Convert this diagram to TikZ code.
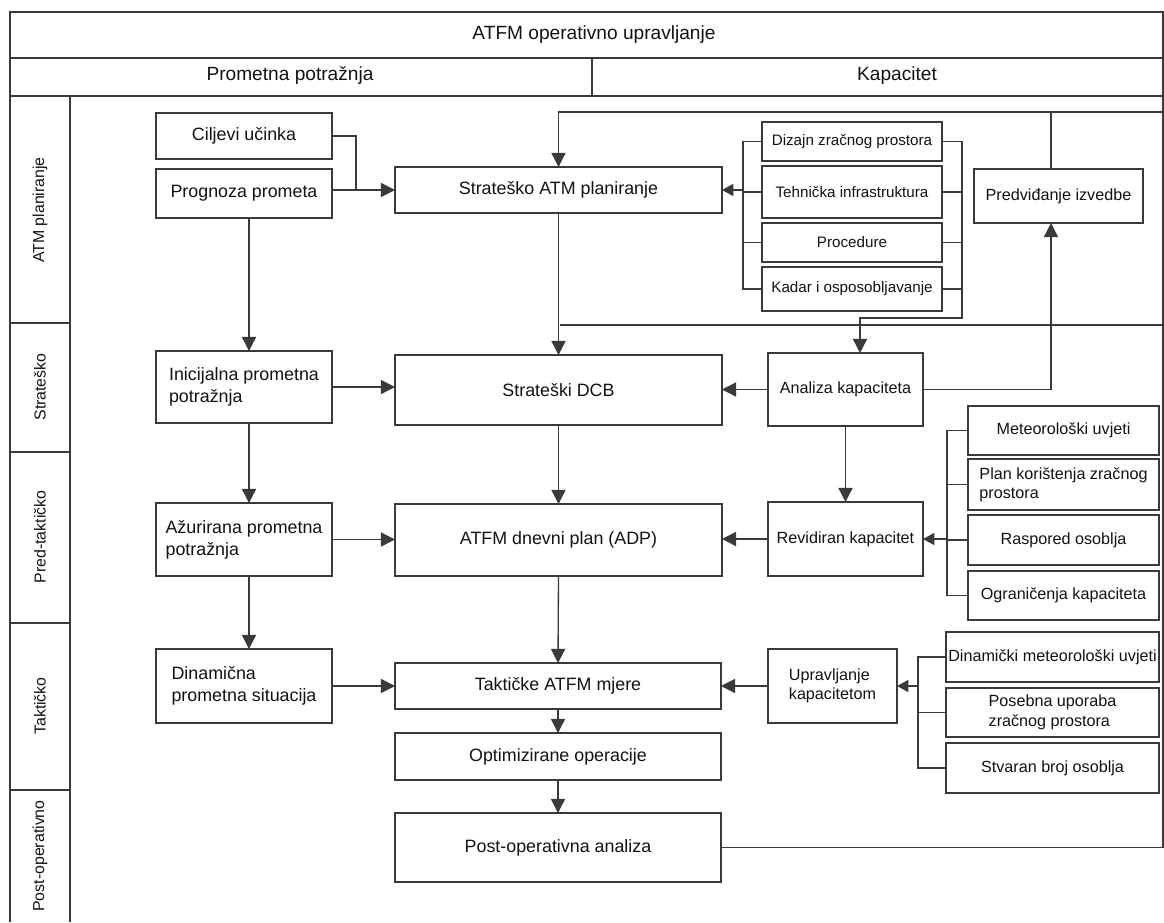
\documentclass[tikz,border=0pt]{standalone}
\usepackage{fontspec}
\setmainfont{Liberation Sans}
\usetikzlibrary{arrows.meta}
\definecolor{ln}{HTML}{3A3A3A}
\definecolor{tx}{HTML}{121212}
\newcommand\fmain{\fontsize{12.7}{15.5}\selectfont}
\newcommand\fside{\fontsize{11.5}{13.8}\selectfont}
\newcommand\fsmall{\fontsize{10.8}{13}\selectfont}
\newcommand\fhead{\fontsize{13.6}{16}\selectfont}
\newcommand\flane{\fontsize{11.3}{13}\selectfont}
% #1 style, #2 name, #3 x1, #4 y1, #5 x2, #6 y2, #7 text
\newcommand\bx[7][]{%
  \node[box,minimum width={(#5-#3)*0.025cm},minimum height={(#6-#4)*0.025cm},#1]
    (#2) at ({(#3+#5)/2},{(#4+#6)/2}) {#7};}
\begin{document}
\begin{tikzpicture}[x=0.025cm,y=-0.025cm,
  box/.style={draw=ln,line width=0.95pt,inner sep=0pt,outer sep=0pt,text=tx,font=\fmain,align=center},
  side/.style={font=\fside},
  smallbox/.style={font=\fsmall},
  conn/.style={draw=ln,line width=0.95pt},
  big/.style={conn,-{Triangle[length=10pt,width=10pt]}},
  sml/.style={conn,-{Triangle[length=8pt,width=8.5pt]}},
  frame/.style={draw=ln,line width=0.95pt},
  lbl/.style={text=tx,inner sep=0pt}]
\useasboundingbox (0,0) rectangle (1164,922);
% ---------- frame ----------
\draw[frame] (10,922) -- (10,12) -- (1163,12) -- (1163,848);
\draw[frame] (10,58) -- (1163,58);
\draw[frame] (10,96) -- (1163,96);
\draw[frame] (592,58) -- (592,96);
\draw[frame] (70,96) -- (70,922);
\foreach \yy in {323,452,623,790} \draw[frame] (10,\yy) -- (70,\yy);
\node[lbl,font=\fhead] (hdr) at (594,35) {ATFM operativno upravljanje};
\node[lbl,font=\fhead] (hpp) at (290,76) {Prometna potražnja};
\node[lbl,font=\fhead] (hkp) at (897,76) {Kapacitet};
\node[lbl,font=\flane,rotate=90] (l1) at (40,210) {ATM planiranje};
\node[lbl,font=\flane,rotate=90] (l2) at (40,387) {Strateško};
\node[lbl,font=\flane,rotate=90] (l3) at (40,537) {Pred-taktičko};
\node[lbl,font=\flane,rotate=90] (l4) at (40,706) {Taktičko};
\node[lbl,font=\flane,rotate=90] (l5) at (40,856) {Post-operativno};
% ---------- boxes ----------
\bx{cilj}{156}{113}{332}{159}{Ciljevi učinka}
\bx{prog}{156}{169}{332}{218}{Prognoza prometa}
\bx{sap}{395}{167}{722}{213}{Strateško ATM planiranje}
\bx[smallbox]{dzp}{762}{122}{942}{161}{Dizajn zračnog prostora}
\bx[smallbox]{tehn}{762}{166}{942}{218}{Tehnička infrastruktura}
\bx[smallbox]{proc}{762}{223}{942}{262}{Procedure}
\bx[smallbox]{kadar}{762}{267}{942}{311}{Kadar i osposobljavanje}
\bx[side]{pred}{974}{169}{1143}{223}{Predviđanje izvedbe}
\bx[align=left]{inic}{156}{351}{332}{423}{Inicijalna prometna\\potražnja}
\bx{dcb}{395}{355}{722}{425}{Strateški DCB}
\bx[side]{anal}{768}{353}{923}{426}{Analiza kapaciteta}
\bx[align=left]{azur}{156}{503}{332}{576}{Ažurirana prometna\\potražnja}
\bx{adp}{395}{504}{722}{576}{ATFM dnevni plan (ADP)}
\bx[side]{rev}{768}{502}{923}{576}{Revidiran kapacitet}
\bx[side]{met}{968}{406}{1159}{455}{Meteorološki uvjeti}
\bx[side,align=left]{plan}{968}{459}{1159}{510}{Plan korištenja zračnog\\prostora}
\bx[side]{rasp}{968}{515}{1159}{565}{Raspored osoblja}
\bx[side]{ogr}{968}{571}{1159}{620}{Ograničenja kapaciteta}
\bx[align=left]{dyn}{156}{649}{332}{723}{Dinamična\\prometna situacija}
\bx{takt}{395}{663}{721}{709}{Taktičke ATFM mjere}
\bx[side,align=left]{upr}{768}{649}{897}{723}{Upravljanje\\kapacitetom}
\bx[side]{dmet}{946}{632}{1159}{682}{Dinamički meteorološki uvjeti}
\bx[side,align=left]{pos}{946}{688}{1159}{737}{Posebna uporaba\\zračnog prostora}
\bx[side]{stv}{946}{743}{1159}{793}{Stvaran broj osoblja}
\bx{opt}{395}{733}{721}{780}{Optimizirane operacije}
\bx{post}{395}{813}{721}{882}{Post-operativna analiza}
% ---------- helper coordinates ----------
\coordinate (j1) at (356,190);
\coordinate (lx) at (249,0);
\coordinate (topR) at (1163,112);
\coordinate (pv) at (1051,0);
\coordinate (m1) at (560,325);
\coordinate (m2) at (1163,325);
\coordinate (lbx) at (743,0);
\coordinate (rbx) at (962,0);
\coordinate (rb2) at (962,318);
\coordinate (ax) at (860,0);
\coordinate (b2) at (947,0);
\coordinate (b3) at (918,0);
% ---------- connectors: demand column ----------
\draw[conn] (cilj.east) -| (j1);
\draw[big] (prog.east |- sap.west) -- (sap.west);
\draw[big] (prog.south -| lx) -- (inic.north -| lx);
\draw[big] (inic.east) -- (inic.east -| dcb.west);
\draw[big] (inic.south -| lx) -- (azur.north -| lx);
\draw[big] (azur.east) -- (azur.east -| adp.west);
\draw[big] (azur.south -| lx) -- (dyn.north -| lx);
\draw[big] (dyn.east) -- (dyn.east -| takt.west);
% ---------- central column ----------
\draw[big] (sap.south) -- (dcb.north);
\draw[conn] (m1) -- (m2);
\draw[big] (dcb.south) -- (adp.north);
\draw[big] (adp.south) -- (takt.north);
\draw[big] (takt.south) -- (opt.north);
\draw[big] (opt.south) -- (post.north);
\draw[big] (post.east) -| (topR) -| (sap.north);
\draw[conn] (pv |- pred.north) -- (pv |- topR);
% ---------- capacity column ----------
\draw[conn] (dzp.west) -- (dzp.west -| lbx) -- (kadar.west -| lbx) -- (kadar.west);
\draw[conn] (tehn.west) -- (tehn.west -| lbx);
\draw[conn] (proc.west) -- (proc.west -| lbx);
\draw[sml] (sap.east -| lbx) -- (sap.east);
\draw[big] (dzp.east) -| (rb2) -| (ax |- anal.north);
\draw[conn] (tehn.east) -- (tehn.east -| rbx);
\draw[conn] (proc.east) -- (proc.east -| rbx);
\draw[conn] (kadar.east) -- (kadar.east -| rbx);
\draw[big] (anal.west) -- (anal.west -| dcb.east);
\draw[big] (anal.east) -| (pv |- pred.south);
\draw[big] (anal.south) -- (anal.south |- rev.north);
\draw[conn] (met.west) -- (met.west -| b2) -- (ogr.west -| b2) -- (ogr.west);
\draw[conn] (plan.west) -- (plan.west -| b2);
\draw[conn] (rasp.west) -- (rasp.west -| b2);
\draw[sml] (rev.east -| b2) -- (rev.east);
\draw[big] (rev.west) -- (rev.west -| adp.east);
\draw[conn] (dmet.west) -- (dmet.west -| b3) -- (stv.west -| b3) -- (stv.west);
\draw[conn] (pos.west) -- (pos.west -| b3);
\draw[sml] (upr.east -| b3) -- (upr.east);
\draw[big] (upr.west) -- (upr.west -| takt.east);
\end{tikzpicture}
\end{document}
